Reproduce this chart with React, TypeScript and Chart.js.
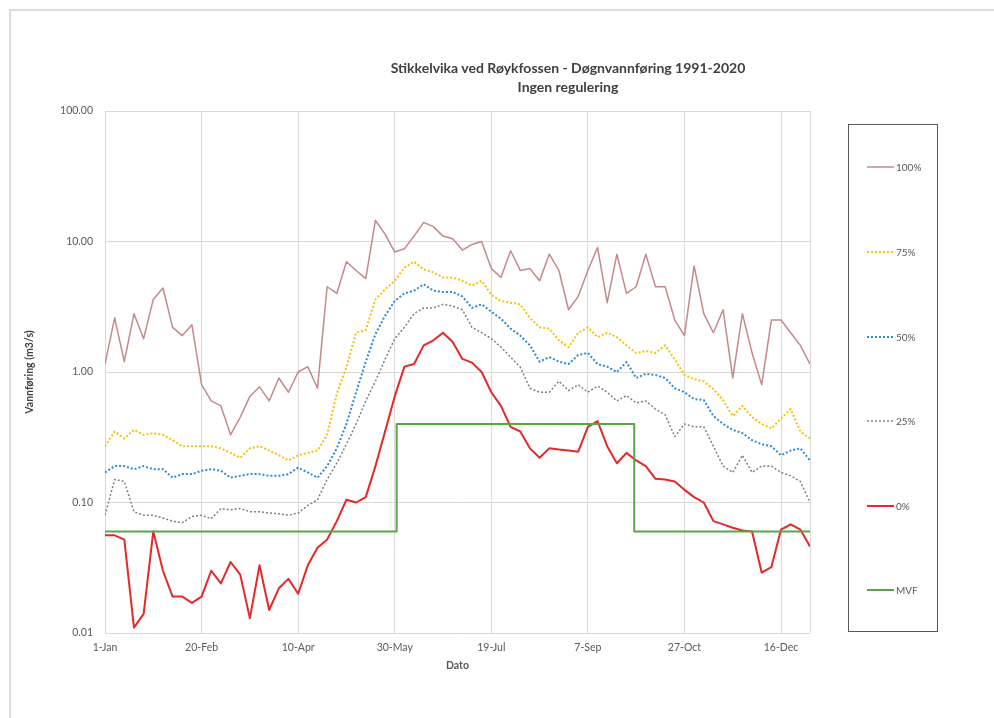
import React, { useEffect, useRef } from 'react';
import { Chart, registerables } from 'chart.js';

Chart.register(...registerables);

// ---- data ----
const TITLE_LINES = ['Stikkelvika ved Røykfossen - Døgnvannføring 1991-2020', 'Ingen regulering'];
const X_TITLE = 'Dato';
const Y_TITLE = 'Vannføring (m3/s)';

// samples every DAY_STEP days, starting 1-Jan (day 0) to day 365
const DAY_STEP = 5;
const X_TICK_DAYS = [0, 50, 100, 150, 200, 250, 300, 350, 365];
const X_TICK_LABELS = ['1-Jan', '20-Feb', '10-Apr', '30-May', '19-Jul', '7-Sep', '27-Oct', '16-Dec', ''];
const Y_TICKS = [0.01, 0.1, 1, 10, 100];

const P100 = [
  1.15, 2.6, 1.2, 2.8, 1.8, 3.6, 4.4, 2.2, 1.9, 2.3,
  0.8, 0.6, 0.55, 0.33, 0.45, 0.65, 0.77, 0.6, 0.9, 0.7,
  1.0, 1.1, 0.75, 4.5, 4.0, 7.0, 6.0, 5.2, 14.5, 11.4,
  8.3, 8.8, 11, 14, 13, 11, 10.5, 8.6, 9.5, 10,
  6.2, 5.3, 8.5, 6.0, 6.2, 5.0, 8.0, 6.0, 3.0, 3.8,
  6.0, 9.0, 3.4, 8.0, 4.0, 4.5, 8.0, 4.5, 4.5, 2.5,
  1.9, 6.5, 2.8, 2.0, 3.0, 0.9, 2.8, 1.4, 0.8, 2.5,
  2.5, 2.0, 1.6, 1.15,
];
const P75 = [
  0.27, 0.35, 0.31, 0.36, 0.33, 0.34, 0.33, 0.30, 0.27, 0.27,
  0.27, 0.27, 0.26, 0.24, 0.22, 0.26, 0.27, 0.25, 0.23, 0.21,
  0.23, 0.24, 0.25, 0.33, 0.68, 1.09, 2.0, 2.1, 3.6, 4.3,
  5.0, 6.3, 7.0, 6.1, 5.8, 5.3, 5.3, 5.0, 4.6, 5.0,
  3.9, 3.5, 3.4, 3.3, 2.6, 2.2, 2.15, 1.75, 1.55, 2.0,
  2.2, 1.85, 2.0, 1.85, 1.6, 1.4, 1.45, 1.4, 1.6, 1.25,
  0.95, 0.88, 0.85, 0.74, 0.61, 0.46, 0.55, 0.45, 0.40, 0.37,
  0.44, 0.52, 0.35, 0.31,
];
const P50 = [
  0.17, 0.19, 0.19, 0.18, 0.19, 0.18, 0.18, 0.155, 0.165, 0.165,
  0.175, 0.18, 0.175, 0.155, 0.16, 0.165, 0.165, 0.16, 0.16, 0.165,
  0.185, 0.17, 0.155, 0.19, 0.26, 0.4, 0.7, 1.2, 1.95, 2.7,
  3.5, 4.0, 4.2, 4.7, 4.2, 4.1, 4.1, 3.8, 3.1, 3.3,
  2.9, 2.56, 2.15, 1.9, 1.6, 1.2, 1.3, 1.2, 1.15, 1.35,
  1.4, 1.15, 1.1, 1.0, 1.19, 0.9, 0.97, 0.95, 0.9, 0.75,
  0.7, 0.62, 0.61, 0.46, 0.4, 0.36, 0.34, 0.3, 0.28, 0.27,
  0.23, 0.25, 0.26, 0.21,
];
const P25 = [
  0.08, 0.15, 0.145, 0.085, 0.08, 0.08, 0.076, 0.072, 0.07, 0.078,
  0.08, 0.075, 0.09, 0.088, 0.09, 0.085, 0.085, 0.083, 0.082, 0.08,
  0.083, 0.095, 0.105, 0.15, 0.2, 0.28, 0.4, 0.6, 0.85, 1.25,
  1.8, 2.2, 2.8, 3.1, 3.1, 3.3, 3.2, 3.0, 2.2, 2.0,
  1.8, 1.55, 1.3, 1.09, 0.75, 0.7, 0.7, 0.85, 0.72, 0.8,
  0.7, 0.78, 0.7, 0.6, 0.66, 0.58, 0.6, 0.52, 0.47, 0.32,
  0.4, 0.38, 0.38, 0.27, 0.19, 0.17, 0.23, 0.17, 0.19, 0.19,
  0.17, 0.16, 0.145, 0.1,
];
const P0 = [
  0.056, 0.056, 0.052, 0.011, 0.014, 0.06, 0.03, 0.019, 0.019, 0.017,
  0.019, 0.03, 0.024, 0.035, 0.028, 0.013, 0.033, 0.015, 0.022, 0.026,
  0.02, 0.033, 0.045, 0.052, 0.072, 0.105, 0.1, 0.11, 0.19, 0.35,
  0.65, 1.1, 1.15, 1.6, 1.75, 2.0, 1.7, 1.26, 1.18, 1.0,
  0.7, 0.55, 0.38, 0.35, 0.26, 0.22, 0.26, 0.255, 0.25, 0.245,
  0.38, 0.42, 0.27, 0.2, 0.24, 0.21, 0.19, 0.152, 0.15, 0.145,
  0.125, 0.11, 0.1, 0.072, 0.068, 0.064, 0.061, 0.06, 0.029, 0.032,
  0.062, 0.068, 0.062, 0.046,
];
// minimum flow (MVF) steps: value holds from each day until the next
const MVF_DAYS = [0, 151, 274, 365];
const MVF_VALUES = [0.06, 0.4, 0.06, 0.06];

const SERIES_LABELS = ['100%', '75%', '50%', '25%', '0%', 'MVF'];
const SERIES_COLORS = ['#c4898a', '#f6c20a', '#2d8ad8', '#808080', '#e52828', '#58a646'];
const SERIES_DASH: number[][] = [[], [2, 2], [2, 2], [2, 2], [], []];
const SERIES_WIDTH = [1.5, 2, 2, 1.5, 2, 2];

const FONT = 'Lato, "Open Sans", "DejaVu Sans", sans-serif';

const toPoints = (vals: number[]) => vals.map((v, i) => ({ x: i * DAY_STEP, y: v }));

export default function App() {
  const ref = useRef<HTMLCanvasElement>(null);

  useEffect(() => {
    const seriesData = [
      toPoints(P100),
      toPoints(P75),
      toPoints(P50),
      toPoints(P25),
      toPoints(P0),
      MVF_DAYS.map((d, i) => ({ x: d, y: MVF_VALUES[i] })),
    ];
    const datasets = seriesData.map((data, i) => ({
      label: SERIES_LABELS[i],
      data,
      borderColor: SERIES_COLORS[i],
      backgroundColor: SERIES_COLORS[i],
      borderDash: SERIES_DASH[i],
      borderWidth: SERIES_WIDTH[i],
      pointRadius: 0,
      tension: 0,
      fill: false,
      borderJoinStyle: 'round' as const,
      stepped: i === 5 ? ('before' as const) : false,
      order: 6 - i,
    }));

    const chart = new Chart(ref.current!, {
      type: 'line',
      data: { datasets },
      options: {
        responsive: false,
        animation: false,
        devicePixelRatio: 1,
        events: [],
        layout: { padding: { left: 0, top: 111, right: 184, bottom: 41 } },
        plugins: {
          legend: { display: false },
          tooltip: { enabled: false },
          title: { display: false },
        },
        scales: {
          x: {
            type: 'linear',
            min: 0,
            max: 365,
            afterFit: (s: any) => {
              s.height = 44;
            },
            afterBuildTicks: (s: any) => {
              s.ticks = X_TICK_DAYS.map((v) => ({ value: v }));
            },
            ticks: {
              autoSkip: false,
              maxRotation: 0,
              padding: 8,
              color: '#595959',
              font: { family: FONT, size: 10.5 },
              callback: (v: any) => {
                const idx = X_TICK_DAYS.indexOf(Number(v));
                return idx >= 0 ? X_TICK_LABELS[idx] : '';
              },
            },
            grid: { color: '#d9d9d9', lineWidth: 1, drawTicks: false },
            border: { display: false },
            title: {
              display: true,
              text: X_TITLE,
              color: '#595959',
              font: { family: FONT, size: 10.5, weight: 'bold' },
              padding: { top: 0, bottom: 5 },
            },
          },
          y: {
            type: 'logarithmic',
            min: 0.01,
            max: 100,
            afterFit: (s: any) => {
              s.width = 105;
            },
            afterBuildTicks: (s: any) => {
              s.ticks = Y_TICKS.map((v) => ({ value: v, major: true }));
            },
            ticks: {
              autoSkip: false,
              padding: 12,
              color: '#595959',
              font: { family: FONT, size: 10.5 },
              callback: (v: any) => Number(v).toFixed(2),
            },
            grid: { color: '#d9d9d9', lineWidth: 1, drawTicks: false },
            border: { display: false },
            title: {
              display: true,
              text: Y_TITLE,
              color: '#404040',
              font: { family: FONT, size: 10.5, weight: 'bold' },
              padding: { top: 23, bottom: 0 },
            },
          },
        },
      },
    });
    return () => chart.destroy();
  }, []);

  const legendY = [166.7, 251.7, 336.7, 421, 505.7, 590];

  return (
    <div
      style={{
        position: 'fixed',
        left: 0,
        top: 0,
        width: 994,
        height: 718,
        overflow: 'hidden',
        background: '#ffffff',
        fontFamily: FONT,
      }}
    >
      <div
        style={{
          position: 'absolute',
          left: 9,
          top: 9,
          right: -20,
          bottom: -20,
          borderTop: '2px solid #dcdcdc',
          borderLeft: '2px solid #dcdcdc',
        }}
      />
      <canvas
        ref={ref}
        width={994}
        height={718}
        style={{ position: 'absolute', left: 0, top: 0, width: 994, height: 718 }}
      />
      <div
        style={{
          position: 'absolute',
          left: 368,
          top: 58,
          width: 400,
          textAlign: 'center',
          fontWeight: 'bold',
          fontSize: 14,
          lineHeight: '19px',
          color: '#404040',
        }}
      >
        {TITLE_LINES.map((t) => (
          <div key={t}>{t}</div>
        ))}
      </div>
      <div
        style={{
          position: 'absolute',
          left: 848,
          top: 124,
          width: 90,
          height: 508,
          boxSizing: 'border-box',
          border: '1.5px solid #595959',
        }}
      />
      {SERIES_LABELS.map((label, i) => (
        <div
          key={label}
          style={{
            position: 'absolute',
            left: 867,
            top: legendY[i] - 8,
            height: 16,
            display: 'flex',
            alignItems: 'center',
            whiteSpace: 'nowrap',
          }}
        >
          <svg width={27} height={4} style={{ display: 'block' }}>
            <line
              x1={0}
              y1={2}
              x2={27}
              y2={2}
              stroke={SERIES_COLORS[i]}
              strokeWidth={SERIES_WIDTH[i]}
              strokeDasharray={SERIES_DASH[i].length ? SERIES_DASH[i].join(' ') : undefined}
            />
          </svg>
          <span style={{ marginLeft: 2, fontSize: 10, color: '#595959' }}>{label}</span>
        </div>
      ))}
    </div>
  );
}
